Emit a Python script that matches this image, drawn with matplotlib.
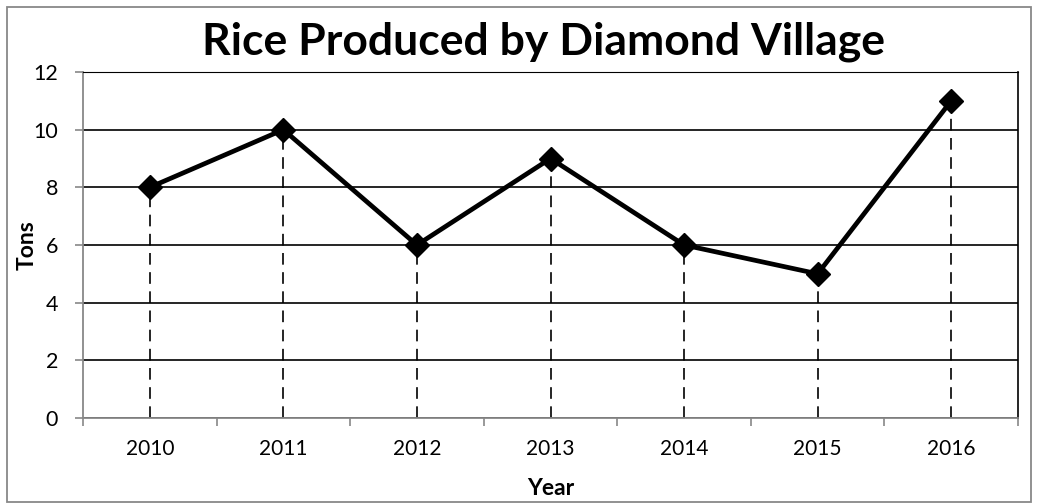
import matplotlib.pyplot as plt
import numpy as np

years = ["2010", "2011", "2012", "2013", "2014", "2015", "2016"]
tons = [8, 10, 6, 9, 6, 5, 11]

plt.rcParams['font.family'] = ['Lato', 'DejaVu Sans']

fig = plt.figure(figsize=(10.38, 5.04), dpi=100)
ax = fig.add_axes([83 / 1038, 1 - 418 / 504, (1018 - 83) / 1038, (418 - 72) / 504])

x = np.arange(len(years))

# dashed drop lines from each point down to the axis
ax.vlines(x, 0, tons, colors="black", linestyles=(0, (7, 4.5)), linewidth=1.2, zorder=2)
ax.plot(x, tons, color="black", linewidth=3.4, marker="D", markersize=12, zorder=3)

ax.set_xlim(-0.5, len(years) - 0.5)
ax.set_ylim(0, 12)
ax.set_yticks(np.arange(0, 13, 2))
ax.yaxis.grid(True, color="black", linewidth=1.2)
ax.set_axisbelow(True)

# category labels centred, tick marks between categories
ax.set_xticks(x)
ax.set_xticklabels(years, fontsize=15)
ax.set_xticks(np.arange(-0.5, len(years), 1), minor=True)
ax.tick_params(axis="x", which="major", length=0, pad=15)
ax.tick_params(axis="x", which="minor", length=6, color="#888888", width=1.2)
ax.tick_params(axis="y", length=6, color="#888888", width=1.2, labelsize=15.5, pad=12)

for side in ["left", "bottom"]:
    ax.spines[side].set_color("#888888")
    ax.spines[side].set_linewidth(1.3)
ax.spines["top"].set_color("black")
ax.spines["right"].set_color("black")
ax.spines["right"].set_linewidth(1.2)

ax.set_xlabel("Year", fontsize=16.5, fontweight="bold")
ax.set_ylabel("Tons", fontsize=16.5, fontweight="bold")
ax.xaxis.set_label_coords(0.5, -(478 - 418) / 346)
ax.yaxis.set_label_coords(-(83 - 38) / 935, 0.5)
fig.text(543 / 1038, 1 - 55 / 504, "Rice Produced by Diamond Village", fontsize=32,
         fontweight="bold", ha="center", va="baseline")

# outer chart border
fig.patches.append(plt.Rectangle((7 / 1038, 2 / 504), 1 - 14 / 1038, 1 - 9 / 504,
                                 transform=fig.transFigure, fill=False,
                                 edgecolor="#888888", linewidth=1.3))

fig.savefig("out.png", dpi=100)
